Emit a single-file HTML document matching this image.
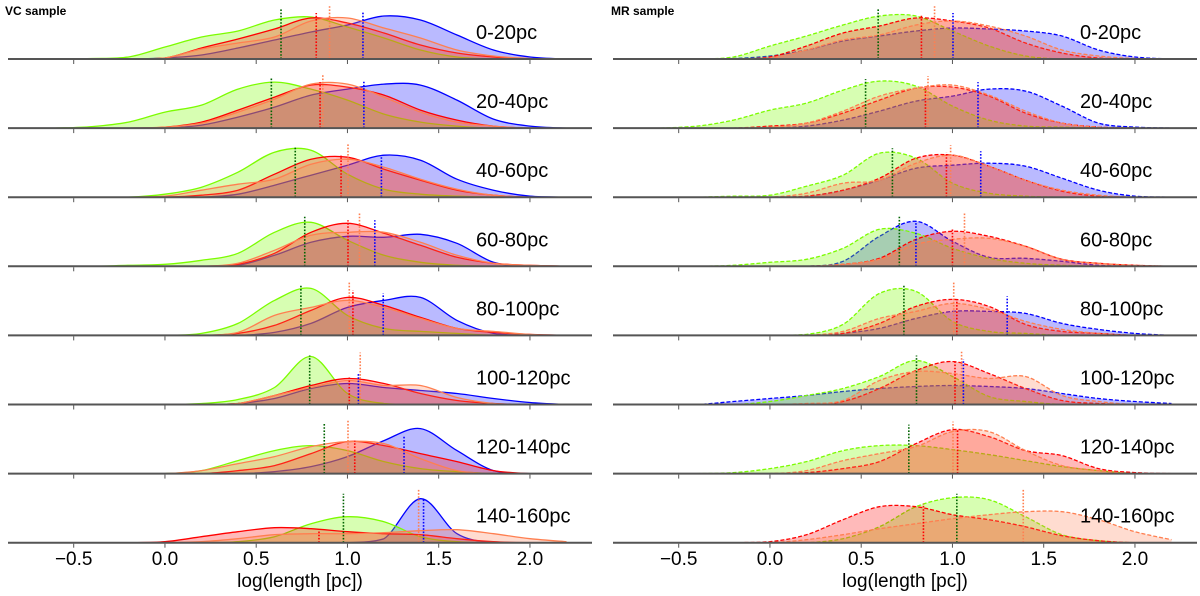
<!DOCTYPE html>
<html><head><meta charset="utf-8"><style>
html,body{margin:0;padding:0;background:#fff;}
svg{display:block;font-family:"Liberation Sans",sans-serif;}
</style></head><body>
<svg id="chart" width="1200" height="596" viewBox="0 0 1200 596">
<defs>
<clipPath id="clipL"><rect x="8" y="0" width="584" height="596"/></clipPath>
<clipPath id="clipR"><rect x="613" y="0" width="587" height="596"/></clipPath>
</defs>
<text x="5" y="15" font-size="12" font-weight="bold">VC sample</text>
<text x="611" y="15" font-size="12" font-weight="bold">MR sample</text>
<g id="left" clip-path="url(#clipL)"></g>
<g id="right" clip-path="url(#clipR)"></g>
<g id="axes"></g>
</svg>
<script>
const rowLabels = ["0-20pc","20-40pc","40-60pc","60-80pc","80-100pc","100-120pc","120-140pc","140-160pc"];
const gridX = [-0.6,-0.4,-0.2,0,0.2,0.4,0.6,0.8,1.0,1.2,1.4,1.6,1.8,2.0,2.2];
const tickVals = [-0.5,0,0.5,1,1.5,2];
const tickLabels = ["\u22120.5","0.0","0.5","1.0","1.5","2.0"];

const vcGreen = [
[0,0.5,2,12,22,28,39,42,32,21,9,2,0,0,0],
[0,1.5,6,16,23,39,46,39,28,14,6,2,0,0,0],
[0,0,0,3,10,25,45,47,23,8,3,1,0,0,0],
[0,0,1,2,6,13,34,44,26,11,4,1,0,0,0],
[0,0,0,0,2,12,35,47,20,7,4,2,0,0,0],
[0,0,0,0,1,5,17,48,11,1,0,0,0,0,0],
[0,0,0,0,3,13,23,28,23,12,5,2,0,0,0],
[0,0,0,0,0,1,6,19,26,21,6,1,0,0,0]];
const vcRed = [
[0,0,0,1,11,20,30,41,36,26,14,6,2,0,0],
[0,0,0,1,6,18,31,43,41,33,18,8,2,0,0],
[0,0,0,0,2,7,23,38,40,28,17,7,2,0,0],
[0,0,0,0,0,2,13,34,43,33,21,9,3,1,0],
[0,0,0,0,0,2,10,25,38,30,18,7,3,1,0],
[0,0,0,0,0,1,9,19,26,21,11,4,1,0,0],
[0,0,0,0,0,3,8,20,32,28,20,12,3,0,0],
[0,0,0,1,6,11,15,14,11,9,8,4,1,0,0]];
const vcOrange = [
[0,0,0,1,10,16,22,38,41,31,21,9,3,0.5,0],
[0,0,0,1,5,16,29,44,44,31,16,6,2,0,0],
[0,0,0,1,7,13,18,33,38,30,18,8,2,0,0],
[0,0,0,0,0,3,16,31,34,34,24,11,3,1,0],
[0,0,0,0,0,3,20,28,35,28,17,7,4,1,0],
[0,0,0,0,0,1,9,17,24,19,19,7,1,0,0],
[0,0,0,0,3,10,17,27,32,30,15,3,0,0,0],
[0,0,0,0,1,4,8,9,9,10,12,13,9,4,1]];
const vcBlue = [
[0,0,0,1,4,11,19,27,34,43,39,24,9,2,0],
[0,0,0,0,3,11,21,33,39,44,43,28,9,2,0],
[0,0,0,0,0,3,12,22,32,42,37,18,7,1,0],
[0,0,0,0,0,1,11,24,30,29,32,23,4,0,0],
[0,0,0,0,0,0,3,12,28,35,38,15,2,0,0],
[0,0,0,0,0,1,6,16,21,17,14,11,6,2,0],
[0,0,0,0,0,0,2,7,17,33,45,23,3,0,0],
[0,0,0,0,0,0,0,0,0,4,44,9,0,0,0]];
const vcMedGreen = [0.636,0.583,0.714,0.766,0.745,0.793,0.873,0.978];
const vcMedRed = [0.829,0.85,0.965,1.003,1.03,1.01,1.04,0.844];
const vcMedOrange = [0.902,0.865,1.003,1.066,1.01,1.07,1.003,1.39];
const vcMedBlue = [1.085,1.09,1.186,1.15,1.196,1.06,1.31,1.417];
const vcTopGreen = [51,50,50,50,50,49,50,49];
const vcTopRed = [46,46,42,46,45,27,33,12];
const vcTopOrange = [54,54,53,53,53,52,53,53];
const vcTopBlue = [47,47,42,46,42,31,37,44];

const mrGreen = [
[0,0,2,13,23,34,43,43,28,13,3,0,0,0,0],
[0,2,8,18,25,38,47,42,22,8,2,1,0,0,0],
[0,0,1,2,11,22,44,39,14,4,1,0,0,0,0],
[0,0,1,4,7,18,37,33,18,8,3,1,0,0,0],
[0,0,0,0,1,11,42,44,14,4,2,0,0,0,0],
[0,0,0,3,9,16,28,44,28,8,3,0,0,0,0],
[0,0,1,5,12,23,28,28,24,19,13,7,3,0,0],
[0,0,0,0,0,4,16,36,45,43,26,8,2,0,0]];
const mrRed = [
[0,0,0,2,13,26,33,41,38,31,16,6,1,0,0],
[0,0,0,2,5,15,28,40,41,32,15,5,1,0,0],
[0,0,0,0,1,7,19,39,42,31,17,6,1,0,0],
[0,0,0,0,0,2,8,27,35,30,20,7,3,1,0],
[0,0,0,0,0,2,12,29,36,29,11,4,2,0,0],
[0,0,0,0,0,3,16,34,43,31,16,4,1,0,0],
[0,0,0,0,1,5,12,30,44,37,23,18,5,1,0],
[0,0,0,1,8,23,36,36,28,23,16,7,2,0,0]];
const mrOrange = [
[0,0,0,1,9,19,24,34,38,33,23,9,3,0.5,0],
[0,0,0,1,5,17,32,40,43,33,17,5,1,0,0],
[0,0,0,0,4,14,17,34,42,31,17,7,2,0,0],
[0,0,0,0,0,2,7,22,27,28,20,7,3,1,0],
[0,0,0,0,0,4,17,24,32,26,14,6,2,0,0],
[0,0,0,0,1,4,24,33,31,26,28,9,3,0,0],
[0,0,0,0,3,13,20,27,42,42,23,8,3,0,0],
[0,0,0,0,3,8,14,19,24,28,31,31,23,11,3]];
const mrBlue = [
[0,0,0.5,3,9,18,23,28,31,30,28,23,9,2,0],
[0,0,0,0,2,8,17,27,32,39,37,22,5,1,0],
[0,0,0,0,1,7,17,29,32,34,31,19,7,1,0],
[0,0,0,0,0,5,30,45,25,9,8,5,1,0,0],
[0,0,0,0,0,2,7,17,24,24,22,12,6,2,0],
[0,0,3,6,9,13,16,18,19,18,16,11,6,3,1],
null,null];
const mrMedGreen = [0.593,0.524,0.671,0.709,0.734,0.803,0.761,1.024];
const mrMedRed = [0.83,0.852,0.967,1.0,1.024,1.014,1.028,0.841];
const mrMedOrange = [0.902,0.866,0.99,1.066,1.007,1.05,1.003,1.388];
const mrMedBlue = [1.003,1.14,1.155,0.80,1.30,1.06,null,null];
const mrTopGreen = [50,49,49,50,50,49,49,49];
const mrTopRed = [44,40,45,37,36,43,44,39];
const mrTopOrange = [53,52,52,53,53,53,52,53];
const mrTopBlue = [46,46,46,45,39,45,0,0];

const NS = "http://www.w3.org/2000/svg";
const XMIN = -0.86, XMAX = 2.34, PW = 584;
function xScale(x0, v){ return x0 + (v - XMIN) / (XMAX - XMIN) * PW; }
function baseY(i){ return 59 + 69.1 * i; }
function yScale(i, h){ return baseY(i) - h; }

function mk(tag, attrs, parent){
  const e = document.createElementNS(NS, tag);
  for (const k in attrs) e.setAttribute(k, attrs[k]);
  parent.appendChild(e);
  return e;
}
function curvePts(x0, i, vals){
  const p = gridX.map((g, k) => [xScale(x0, g), yScale(i, vals[k])]);
  const b = baseY(i);
  let d = "M" + p[0][0].toFixed(1) + "," + p[0][1].toFixed(1);
  for (let k = 0; k < p.length - 1; k++){
    const p0 = p[Math.max(0,k-1)], p1 = p[k], p2 = p[k+1], p3 = p[Math.min(p.length-1,k+2)];
    const c1 = [p1[0] + (p2[0]-p0[0])/6, Math.min(b, p1[1] + (p2[1]-p0[1])/6)];
    const c2 = [p2[0] - (p3[0]-p1[0])/6, Math.min(b, p2[1] - (p3[1]-p1[1])/6)];
    d += " C" + c1[0].toFixed(1)+","+c1[1].toFixed(1)+" "+c2[0].toFixed(1)+","+c2[1].toFixed(1)+" "+p2[0].toFixed(1)+","+p2[1].toFixed(1);
  }
  return {d, first:p[0][0], last:p[p.length-1][0], b};
}
const series = [
  {key:"green", line:"#7cfc00", fill:"rgba(124,252,0,0.3)", med:"#006400"},
  {key:"red", line:"#ff0000", fill:"rgba(255,0,0,0.27)", med:"#ff0000"},
  {key:"orange", line:"#ff7f50", fill:"rgba(255,127,80,0.27)", med:"#ff7f50"},
  {key:"blue", line:"#0000ff", fill:"rgba(0,0,255,0.27)", med:"#0000ff"}
];
const drawOrder = [3, 0, 1, 2];
function drawPanel(g, x0, data, meds, tops, dashed, prefix){
  for (let i = 0; i < 8; i++){
    drawOrder.forEach(si => {
      const s = series[si];
      const vals = data[si][i];
      if (!vals) return;
      const c = curvePts(x0, i, vals);
      const f = mk("path", {d: c.d + " L" + c.last.toFixed(1) + "," + c.b + " L" + c.first.toFixed(1) + "," + c.b + " Z", fill: s.fill, stroke: "none"}, g);
      
      
      const l = mk("path", {d: c.d, fill: "none", stroke: s.line, "stroke-width": 1.3}, g);
      if (dashed) l.setAttribute("stroke-dasharray", "4,2");
      
      
    });
    series.forEach((s, si) => {
      const m = meds[si][i];
      if (m === null || m === undefined) return;
      const x = xScale(x0, m);
      const ml = mk("line", {x1:x, x2:x, y1: baseY(i), y2: yScale(i, tops[si][i]), stroke: s.med, "stroke-width": 1.6, "stroke-dasharray": "1.6,1.6"}, g);
      
      
    });
  }
}
const L = document.getElementById("left"), R = document.getElementById("right"), A = document.getElementById("axes");
drawPanel(L, 8, [vcGreen, vcRed, vcOrange, vcBlue], [vcMedGreen, vcMedRed, vcMedOrange, vcMedBlue], [vcTopGreen, vcTopRed, vcTopOrange, vcTopBlue], false, "vc");
drawPanel(R, 613, [mrGreen, mrRed, mrOrange, mrBlue], [mrMedGreen, mrMedRed, mrMedOrange, mrMedBlue], [mrTopGreen, mrTopRed, mrTopOrange, mrTopBlue], true, "mr");

[[8,476,"vc"],[613,1080,"mr"]].forEach(([x0, lx, prefix]) => {
  for (let i = 0; i < 8; i++){
    const b = baseY(i);
    const bl = mk("line", {x1:x0, x2:x0+PW, y1:b, y2:b, stroke:"#555", "stroke-width":2}, A);
    
    
    tickVals.forEach(t => {
      const tx = xScale(x0, t);
      const tk = mk("line", {x1:tx, x2:tx, y1:b+1, y2:b+5, stroke:"#555", "stroke-width":1}, A);
      
      
    });
    const lb = mk("text", {x:lx, y:b-20, "font-size":20, fill:"#000"}, A);
    lb.textContent = rowLabels[i];
    
    
  }
  tickVals.forEach((t, k) => {
    const tl = mk("text", {x: xScale(x0, t), y: 565, "font-size":19, "text-anchor":"middle", fill:"#000"}, A);
    tl.textContent = tickLabels[k];
    
    
  });
  const xl = mk("text", {x: x0 + PW/2, y: 587, "font-size":19, "text-anchor":"middle", fill:"#000"}, A);
  xl.textContent = "log(length [pc])";
  
  
});
</script>
</body></html>
